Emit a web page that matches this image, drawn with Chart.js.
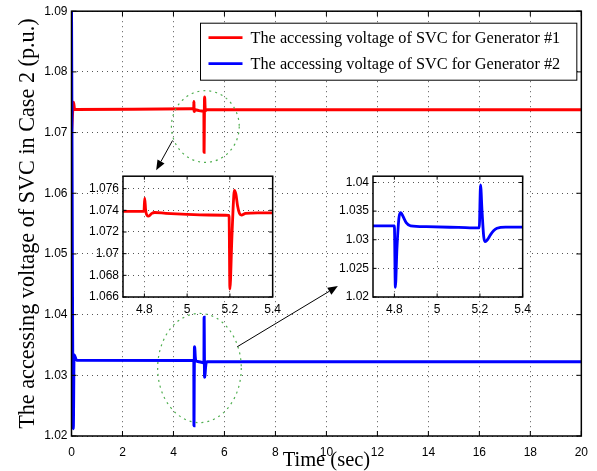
<!DOCTYPE html>
<html><head><meta charset="utf-8">
<script src="https://cdn.jsdelivr.net/npm/chart.js@4.4.0/dist/chart.umd.min.js"></script>
<style>
html,body{margin:0;padding:0;background:#fff;}
#wrap{position:relative;width:597px;height:471px;overflow:hidden;}
canvas{position:absolute;}
</style></head><body>
<div id="wrap">
<canvas id="main" width="597" height="471" style="left:0;top:0"></canvas>
<canvas id="inset1" width="205" height="158" style="left:81px;top:165px"></canvas>
<canvas id="inset2" width="205" height="158" style="left:331px;top:165px"></canvas>
</div>
<script>
// ---------------- data ----------------
const gen1Label = 'The accessing voltage of SVC for Generator #1';
const gen2Label = 'The accessing voltage of SVC for Generator #2';

const gen1Time = [0, 0.08, 0.12, 4.7, 4.798, 4.8015, 4.806, 4.812, 4.82, 4.835, 4.848, 4.9, 5.0, 5.1, 5.196, 5.2, 5.209, 5.215, 5.221, 5.228, 5.236, 5.245, 5.254, 5.273, 5.33, 5.4, 20];
const gen1Volt = [1.0700, 1.0750, 1.0738, 1.07391, 1.07391, 1.07512, 1.0740, 1.07355, 1.07347, 1.07372, 1.07380, 1.07372, 1.07362, 1.07357, 1.07353, 1.06674, 1.0713, 1.0742, 1.07585, 1.0755, 1.0744, 1.0737, 1.07356, 1.07371, 1.07376, 1.07376, 1.07376];

const gen2Time = [0, 0.07, 0.1, 0.2, 4.7, 4.8, 4.8045, 4.812, 4.822, 4.83, 4.84, 4.855, 4.876, 4.95, 5.1, 5.197, 5.203, 5.21, 5.218, 5.225, 5.235, 5.25, 5.265, 5.28, 5.32, 5.4, 20];
const gen2Volt = [1.0900, 1.0212, 1.0334, 1.0325, 1.03244, 1.03244, 1.02167, 1.0285, 1.0340, 1.03472, 1.0341, 1.0330, 1.03244, 1.03228, 1.03215, 1.03206, 1.03956, 1.0350, 1.0305, 1.02967, 1.0300, 1.0309, 1.0316, 1.0320, 1.03222, 1.03222, 1.03222];

const mainXTicks = [0, 2, 4, 6, 8, 10, 12, 14, 16, 18, 20];
const mainYTicks = [1.02, 1.03, 1.04, 1.05, 1.06, 1.07, 1.08, 1.09];
const insetXTicks = [4.8, 5, 5.2, 5.4];
const inset1YTicks = [1.066, 1.068, 1.07, 1.072, 1.074, 1.076];
const inset2YTicks = [1.02, 1.025, 1.03, 1.035, 1.04];

const xTitle = 'Time (sec)';
const yTitle = 'The accessing voltage of SVC in Case 2 (p.u.)';

// annotation geometry in data units of the main axes
const zoomRings = [
  {cx: 5.25, cy: 1.0710, rx: 1.33, ry: 0.0059},
  {cx: 5.02, cy: 1.0312, rx: 1.64, ry: 0.0090}
];
const pointerArrows = [
  {from: [3.965, 1.0687], to: [3.32, 1.0638]},
  {from: [6.50, 1.0347], to: [10.45, 1.0447]}
];

// ---------------- helpers ----------------
const RED = '#ff0000', BLUE = '#0000ff';
const toXY = (t, v) => t.map((x, i) => ({x, y: v[i]}));
const fmt = v => String(Number(Number(v).toFixed(4)));
const setTicks = arr => (s => { s.ticks = arr.map(v => ({value: v})); });

Chart.defaults.font.family = '"Liberation Sans", Arial, sans-serif';
Chart.defaults.font.size = 12;
Chart.defaults.color = '#000';

const frameTicks = {
  id: 'frameTicks',
  afterDatasetsDraw(chart, args, opts) {
    const {ctx, chartArea: a, scales: {x, y}} = chart;
    const L = opts.len || 5;
    ctx.save();
    ctx.strokeStyle = '#000';
    ctx.lineWidth = 1;
    ctx.beginPath();
    x.ticks.forEach(t => {
      const p = x.getPixelForValue(t.value);
      ctx.moveTo(p, a.bottom); ctx.lineTo(p, a.bottom - L);
      ctx.moveTo(p, a.top); ctx.lineTo(p, a.top + L);
    });
    y.ticks.forEach(t => {
      const p = y.getPixelForValue(t.value);
      ctx.moveTo(a.left, p); ctx.lineTo(a.left + L, p);
      ctx.moveTo(a.right, p); ctx.lineTo(a.right - L, p);
    });
    ctx.stroke();
    ctx.lineWidth = opts.width || 1.5;
    ctx.strokeRect(a.left, a.top, a.right - a.left, a.bottom - a.top);
    ctx.restore();
  }
};

const whiteArea = {
  id: 'whiteArea',
  beforeDraw(chart) {
    const {ctx, chartArea: a} = chart;
    ctx.save();
    ctx.fillStyle = '#fff';
    ctx.fillRect(a.left, a.top, a.right - a.left, a.bottom - a.top);
    ctx.restore();
  }
};

const annotations = {
  id: 'annotations',
  afterDatasetsDraw(chart) {
    const {ctx, scales: {x, y}} = chart;
    ctx.save();
    ctx.strokeStyle = 'rgb(80,175,80)';
    ctx.lineWidth = 1.2;
    ctx.setLineDash([2, 4]);
    zoomRings.forEach(r => {
      const cx = x.getPixelForValue(r.cx), cy = y.getPixelForValue(r.cy);
      const rx = Math.abs(x.getPixelForValue(r.cx + r.rx) - cx);
      const ry = Math.abs(y.getPixelForValue(r.cy + r.ry) - cy);
      ctx.beginPath();
      ctx.ellipse(cx, cy, rx, ry, 0, 0, Math.PI * 2);
      ctx.stroke();
    });
    ctx.setLineDash([]);
    ctx.strokeStyle = '#000';
    ctx.fillStyle = '#000';
    ctx.lineWidth = 1;
    pointerArrows.forEach(a => {
      const x0 = x.getPixelForValue(a.from[0]), y0 = y.getPixelForValue(a.from[1]);
      const x1 = x.getPixelForValue(a.to[0]), y1 = y.getPixelForValue(a.to[1]);
      const ang = Math.atan2(y1 - y0, x1 - x0);
      const hl = 10, hw = 4;
      const bx = x1 - hl * Math.cos(ang), by = y1 - hl * Math.sin(ang);
      ctx.beginPath(); ctx.moveTo(x0, y0); ctx.lineTo(bx, by); ctx.stroke();
      ctx.beginPath();
      ctx.moveTo(x1, y1);
      ctx.lineTo(bx + hw * Math.sin(ang), by - hw * Math.cos(ang));
      ctx.lineTo(bx - hw * Math.sin(ang), by + hw * Math.cos(ang));
      ctx.closePath(); ctx.fill();
    });
    ctx.restore();
  }
};

const boxLegend = {
  id: 'boxLegend',
  afterDraw(chart) {
    const {ctx, chartArea: a} = chart;
    const left = a.left + 129, top = a.top + 12, right = a.right - 4.5, h = 57;
    ctx.save();
    ctx.fillStyle = '#fff';
    ctx.fillRect(left, top, right - left, h);
    ctx.strokeStyle = '#000';
    ctx.lineWidth = 1;
    ctx.strokeRect(left, top, right - left, h);
    const rows = [14.5, 40.5];
    chart.data.datasets.forEach((ds, i) => {
      const yy = top + rows[i];
      ctx.strokeStyle = ds.borderColor;
      ctx.lineWidth = 2.8;
      ctx.beginPath(); ctx.moveTo(left + 8, yy); ctx.lineTo(left + 42, yy); ctx.stroke();
      ctx.fillStyle = '#000';
      ctx.font = '16.3px "Liberation Serif", "Times New Roman", serif';
      ctx.textBaseline = 'middle';
      ctx.fillText(ds.label, left + 50, yy + 1);
    });
    ctx.restore();
  }
};

function lineDs(label, t, v, color, order, width) {
  return {label, data: toXY(t, v), borderColor: color, backgroundColor: color,
          borderWidth: width, pointRadius: 0, fill: false, order,
          cubicInterpolationMode: 'monotone'};
}

function gridOpts() {
  return {color: '#555', lineWidth: 1, drawTicks: false};
}

// ---------------- main chart ----------------
new Chart(document.getElementById('main'), {
  type: 'line',
  data: {datasets: [
    lineDs(gen1Label, gen1Time, gen1Volt, RED, 1, 3),
    lineDs(gen2Label, gen2Time, gen2Volt, BLUE, 0, 3)
  ]},
  options: {
    responsive: false, animation: false, devicePixelRatio: 1,
    layout: {padding: {top: 10.5, right: 13.5, left: 0, bottom: 0}},
    plugins: {legend: {display: false}, tooltip: {enabled: false}, frameTicks: {len: 5, width: 1.5}},
    scales: {
      x: {type: 'linear', min: 0, max: 20,
          afterBuildTicks: setTicks(mainXTicks),
          afterFit: s => { s.height = 35; },
          grid: gridOpts(), border: {display: false, dash: [1, 4]},
          ticks: {padding: 9, callback: fmt, maxRotation: 0, autoSkip: false},
          title: {display: true, text: xTitle, padding: {top: 0, bottom: 0},
                  font: {family: '"Liberation Serif", "Times New Roman", serif', size: 20.5, lineHeight: 1}}},
      y: {type: 'linear', min: 1.02, max: 1.09,
          afterBuildTicks: setTicks(mainYTicks),
          afterFit: s => { s.width = 71.5; },
          grid: gridOpts(), border: {display: false, dash: [1, 4]},
          ticks: {padding: 4, callback: fmt, autoSkip: false},
          title: {display: true, text: yTitle, padding: {top: 17, bottom: 0},
                  font: {family: '"Liberation Serif", "Times New Roman", serif', size: 22.2, lineHeight: 1}}}
    }
  },
  plugins: [frameTicks, annotations, boxLegend]
});

// ---------------- insets ----------------
function makeInset(id, t, v, color, label, yMin, yMax, yTicks, padTop) {
  new Chart(document.getElementById(id), {
    type: 'line',
    data: {datasets: [lineDs(label, t, v, color, 0, 2.8)]},
    options: {
      responsive: false, animation: false, devicePixelRatio: 1,
      layout: {padding: {top: padTop, right: 7, left: 0, bottom: 0}},
      plugins: {legend: {display: false}, tooltip: {enabled: false}, frameTicks: {len: 3.5, width: 1.5}},
      scales: {
        x: {type: 'linear', min: 4.7, max: 5.4,
            afterBuildTicks: setTicks(insetXTicks),
            afterFit: s => { s.height = 26; },
            grid: gridOpts(), border: {display: false, dash: [1, 4]},
            ticks: {padding: 5, callback: fmt, maxRotation: 0, autoSkip: false}},
        y: {type: 'linear', min: yMin, max: yMax,
            afterBuildTicks: setTicks(yTicks),
            afterFit: s => { s.width = 42; },
            grid: gridOpts(), border: {display: false, dash: [1, 4]},
            ticks: {padding: 4, callback: fmt, autoSkip: false}}
      }
    },
    plugins: [whiteArea, frameTicks]
  });
}
makeInset('inset1', gen1Time, gen1Volt, RED, gen1Label, 1.066, 1.07715, inset1YTicks, 6);
makeInset('inset2', gen2Time, gen2Volt, BLUE, gen2Label, 1.02, 1.0411, inset2YTicks, 7);
</script>
</body></html>
